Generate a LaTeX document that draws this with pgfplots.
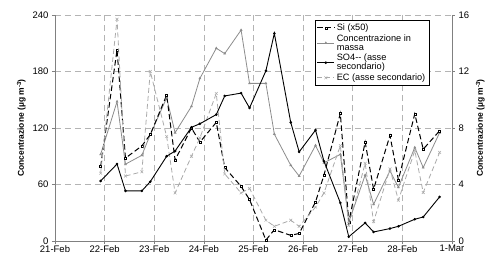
\documentclass[border=0pt]{standalone}
\usepackage{fontspec}
\setmainfont{Liberation Sans}
\usepackage{pgfplots}
\usepackage{pgfplotstable}
\pgfplotsset{compat=1.18}
\definecolor{massgray}{HTML}{8C8C8C}
\definecolor{ecgray}{HTML}{AAAAAA}
\definecolor{gridgray}{HTML}{B4B4B4}
\definecolor{axgray}{HTML}{808080}

\pgfplotstableread{
t si mass so4 ec
21.92 79 92 4.25 4.8
22.25 203 148 5.45 15.7
22.42 88 81.6 3.55 4.6
22.75 101 91 3.55 4.9
22.92 113 113 4.2 12.0
23.25 155 152 6.0 7.4
23.42 86 115 6.37 3.4
23.75 120 143 8.05 6.0
23.92 105 172.7 8.3 7.3
24.25 126 204.7 8.95 10.45
24.42 78 199 10.27 4.75
24.75 58 224 10.47 3.4
24.92 44 167.4 9.42 3.72
25.25 1 167.4 12.05 1.47
25.42 12 113.5 14.7 1.04
25.75 6 80.5 8.4 1.47
25.92 8 69 6.31 1.04
26.25 41.5 101.5 7.85 2.4
26.42 70 83 5.65 3.4
26.75 135.5 92 2.7 6.75
26.92 20 20 0.3 1.1
27.25 105 70 1.28 5.5
27.42 55 39 0.64 1.37
27.75 112 74.5 0.88 5.1
27.92 65 57 1.04 2.89
28.25 135 99.3 1.54 6.4
28.42 97.5 78 1.7 3.43
28.75 117 115 3.12 6.27
}\data

\pgfplotsset{
  common/.style={
    scale only axis, width=397pt, height=226pt,
    xmin=21, xmax=29,
    axis line style={axgray, line width=0.6pt},
    tick style={axgray, line width=0.6pt},
    tick align=outside, major tick length=3pt,
    /pgf/number format/assume math mode=true,
    tick label style={font=\fontsize{9.5}{10}\selectfont},
    xticklabel style={inner sep=0.5pt, yshift=-0.5pt},
    ylabel style={font=\fontsize{8.5}{10}\selectfont\bfseries},
  },
  sistyle/.style={black, line width=1pt, dash pattern=on 5.5pt off 3pt, mark=square*, mark size=1pt, mark options={solid, fill=white, line width=0.4pt}},
  massstyle/.style={massgray, line width=0.8pt, mark=triangle*, mark size=0.9pt, mark options={solid}},
  so4style/.style={black, line width=0.9pt, mark=*, mark size=0.8pt, mark options={solid}},
  ecstyle/.style={ecgray, line width=0.8pt, dash pattern=on 5pt off 3pt, mark=x, mark size=2pt, mark options={solid, line width=0.5pt}},
}

\begin{document}
\begin{tikzpicture}
\useasboundingbox (-55pt,-14pt) rectangle (436pt,241pt);
\begin{axis}[common,
  axis y line*=left, axis x line*=bottom,
  ymin=0, ymax=240, ytick={0,60,120,180,240},
  xtick={21,...,29},
  xticklabels={21-Feb,22-Feb,23-Feb,24-Feb,25-Feb,26-Feb,27-Feb,28-Feb,1-Mar},
  grid=major, grid style={gridgray, dash pattern=on 6pt off 4pt, line width=0.6pt},
  ylabel={Concentrazione (µg m\textsuperscript{-3})},
]
\addplot[massstyle] table[x=t, y=mass] {\data};
\addplot[sistyle] table[x=t, y=si] {\data};
\end{axis}
\begin{axis}[common,
  axis y line*=right, axis x line=none,
  ymin=0, ymax=16, ytick={0,4,8,12,16},
  ylabel={Concentrazione (µg m\textsuperscript{-3})},
  legend style={at={(0.655,0.978)}, anchor=north west, draw=black, line width=0.5pt,
    font=\fontsize{9.2}{9}\selectfont, cells={anchor=west, align=left},
    row sep=-1.5pt, inner sep=1.5pt, fill=white},
  legend cell align=left,
]
\addlegendimage{sistyle}
\addlegendentry{Si (x50)}
\addlegendimage{massstyle}
\addlegendentry{Concentrazione in\\massa}
\addplot[ecstyle, forget plot] table[x=t, y=ec] {\data};
\addplot[so4style] table[x=t, y=so4] {\data};
\addlegendentry{SO4-{}- (asse\\secondario)}
\addlegendimage{ecstyle}
\addlegendentry{EC (asse secondario)}
\end{axis}
\end{tikzpicture}
\end{document}
